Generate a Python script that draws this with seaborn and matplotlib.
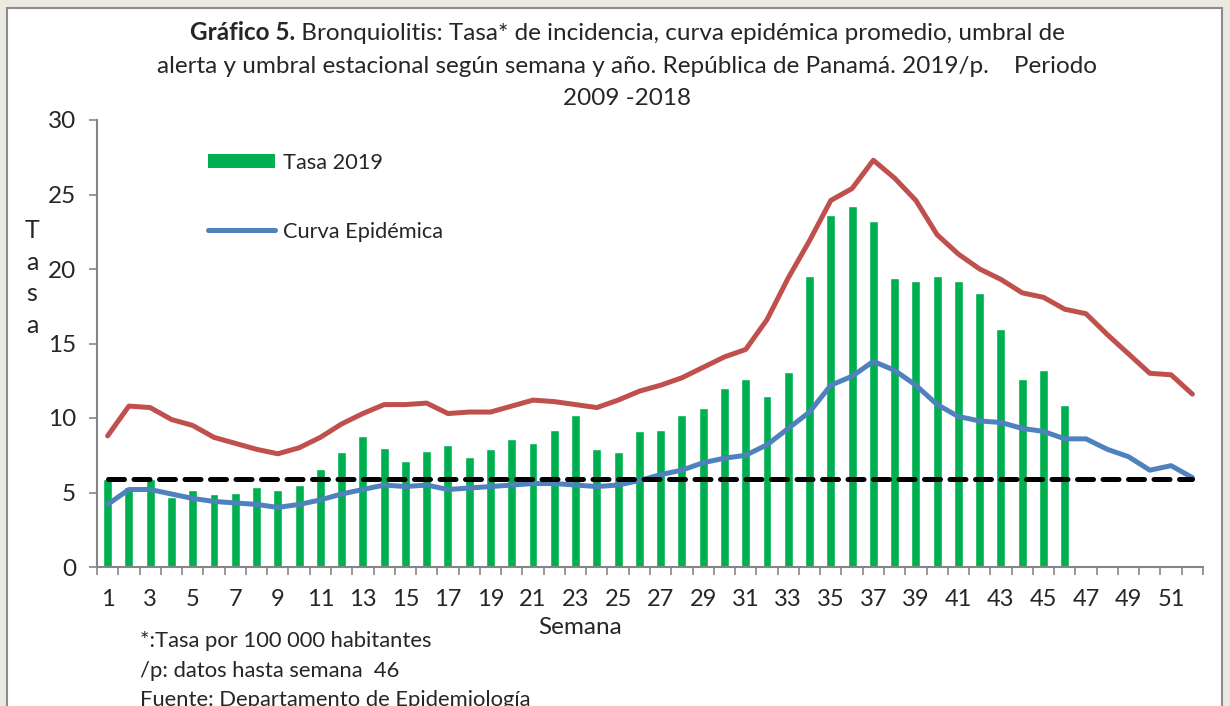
import numpy as np
import pandas as pd
import seaborn as sns
import matplotlib.pyplot as plt
from matplotlib.patches import Rectangle, Patch
from matplotlib.lines import Line2D

# datos (semanas 1-52)
semanas = list(range(1, 53))
tasa_2019 = [5.9, 5.4, 5.9, 4.7, 5.2, 4.9, 5.0, 5.4, 5.2, 5.5,
             6.6, 7.7, 8.8, 8.0, 7.1, 7.8, 8.2, 7.4, 7.9, 8.6,
             8.3, 9.2, 10.2, 7.9, 7.7, 9.1, 9.2, 10.2, 10.7, 12.0,
             12.6, 11.5, 13.1, 19.5, 23.6, 24.2, 23.2, 19.4, 19.2, 19.5,
             19.2, 18.4, 16.0, 12.6, 13.2, 10.9]
curva_epidemica = [4.2, 5.2, 5.2, 4.9, 4.6, 4.4, 4.3, 4.2, 4.0, 4.2,
                   4.5, 4.9, 5.2, 5.5, 5.4, 5.5, 5.2, 5.3, 5.4, 5.5,
                   5.6, 5.6, 5.5, 5.4, 5.5, 5.8, 6.2, 6.5, 7.0, 7.3,
                   7.5, 8.2, 9.3, 10.4, 12.2, 12.8, 13.8, 13.2, 12.2, 10.9,
                   10.1, 9.8, 9.7, 9.3, 9.1, 8.6, 8.6, 7.9, 7.4, 6.5,
                   6.8, 6.0]
umbral_alerta = [8.8, 10.8, 10.7, 9.9, 9.5, 8.7, 8.3, 7.9, 7.6, 8.0,
                 8.7, 9.6, 10.3, 10.9, 10.9, 11.0, 10.3, 10.4, 10.4, 10.8,
                 11.2, 11.1, 10.9, 10.7, 11.2, 11.8, 12.2, 12.7, 13.4, 14.1,
                 14.6, 16.6, 19.4, 21.9, 24.6, 25.4, 27.3, 26.1, 24.6, 22.3,
                 21.0, 20.0, 19.3, 18.4, 18.1, 17.3, 17.0, 15.6, 14.3, 13.0,
                 12.9, 11.6]
umbral_estacional = [5.9] * 52

df_bar = pd.DataFrame({'Semana': semanas[:len(tasa_2019)], 'Tasa': tasa_2019})
df_lin = pd.DataFrame({'Semana': semanas, 'Curva': curva_epidemica,
                       'Alerta': umbral_alerta, 'Estacional': umbral_estacional})

sns.set_style('white')
plt.rcParams['font.family'] = ['Lato', 'DejaVu Sans']

W, H = 1230, 706
fig = plt.figure(figsize=(W / 100, H / 100), dpi=100)
fig.patch.set_facecolor('#ECE9E0')
fig.add_artist(Rectangle((7 / W, -0.05), (1222 - 7) / W, (H - 8) / H + 0.05,
                         transform=fig.transFigure, facecolor='white',
                         edgecolor='#8C8C8C', lw=1.5, zorder=0))

ax = fig.add_axes([97 / W, 1 - 567 / H, (1203 - 97) / W, (567 - 120) / H])
ax.set_facecolor('none')

verde = '#00B050'
azul = '#4F81BD'
rojo = '#C0504D'
lw = 3.6

sns.barplot(data=df_bar, x='Semana', y='Tasa', native_scale=True, width=0.42,
            color=verde, saturation=1, errorbar=None, ax=ax, zorder=2)
sns.lineplot(data=df_lin, x='Semana', y='Alerta', color=rojo, lw=lw, ax=ax,
             zorder=3, solid_capstyle='round')
sns.lineplot(data=df_lin, x='Semana', y='Curva', color=azul, lw=lw, ax=ax,
             zorder=4, solid_capstyle='round')
sns.lineplot(data=df_lin, x='Semana', y='Estacional', color='black', lw=lw,
             ax=ax, zorder=5, dashes=False)
ax.lines[-1].set_dashes((3.2, 1.9))
ax.lines[-1].set_dash_capstyle('round')

ax.set_xlim(0.5, 52.5)
ax.set_ylim(0, 30)
ax.set_yticks(range(0, 31, 5))
ax.set_xticks(semanas[::2])
ax.set_xticklabels([str(s) for s in semanas[::2]])
ax.set_xticks(np.arange(0.5, 53, 1), minor=True)
ax.tick_params(axis='x', which='major', length=0, pad=16, labelsize=17)
ax.tick_params(axis='x', which='minor', length=6, width=1.2, color='#868686',
               direction='out', bottom=True)
ax.tick_params(axis='y', length=6, width=1.2, color='#868686', direction='out',
               left=True, pad=9, labelsize=17.5)
ax.set_xlabel('')
ax.set_ylabel('')
for s in ['top', 'right']:
    ax.spines[s].set_visible(False)
for s in ['left', 'bottom']:
    ax.spines[s].set_color('#868686')
    ax.spines[s].set_linewidth(1.5)

handles = [Patch(facecolor=verde, edgecolor='none', label='Tasa 2019'),
           Line2D([], [], color=azul, lw=lw, label='Curva Epidémica')]
ax.legend(handles=handles, loc='upper left', bbox_to_anchor=(0.083, 0.971),
          frameon=False, fontsize=15.7, handlelength=3.07, handleheight=0.64,
          labelspacing=2.25, handletextpad=0.33)

# titulo con parte en negrita
fs_t = 17.5
r = fig.canvas.get_renderer()
l1a = fig.text(0, 0, 'Gráfico 5.', fontsize=fs_t, fontweight='bold')
l1b = fig.text(0, 0, ' Bronquiolitis: Tasa* de incidencia, curva epidémica promedio, umbral de',
               fontsize=fs_t)
wa = l1a.get_window_extent(r).width
wb = l1b.get_window_extent(r).width
x0 = 627 - (wa + wb) / 2
l1a.set_position((x0 / W, 1 - 40 / H))
l1b.set_position(((x0 + wa) / W, 1 - 40 / H))
fig.text(627 / W, 1 - 73 / H,
         'alerta y umbral estacional según semana y año. República de Panamá. 2019/p.    Periodo',
         fontsize=fs_t, ha='center')
fig.text(627 / W, 1 - 105 / H, '2009 -2018', fontsize=fs_t, ha='center')

fig.text(32 / W, 1 - 278 / H, 'T\na\ns\na', fontsize=18, ha='center', va='center',
         linespacing=1.45)
fig.text(580 / W, 1 - 628 / H, 'Semana', fontsize=17.5, ha='center', va='center')
fig.text(140 / W, 1 - 647 / H, '*:Tasa por 100 000 habitantes', fontsize=15.8)
fig.text(140 / W, 1 - 677 / H, '/p: datos hasta semana  46', fontsize=15.8)
fig.text(140 / W, 1 - 706 / H, 'Fuente: Departamento de Epidemiología', fontsize=15.8)

fig.savefig('out.png', dpi=100, facecolor=fig.get_facecolor())
